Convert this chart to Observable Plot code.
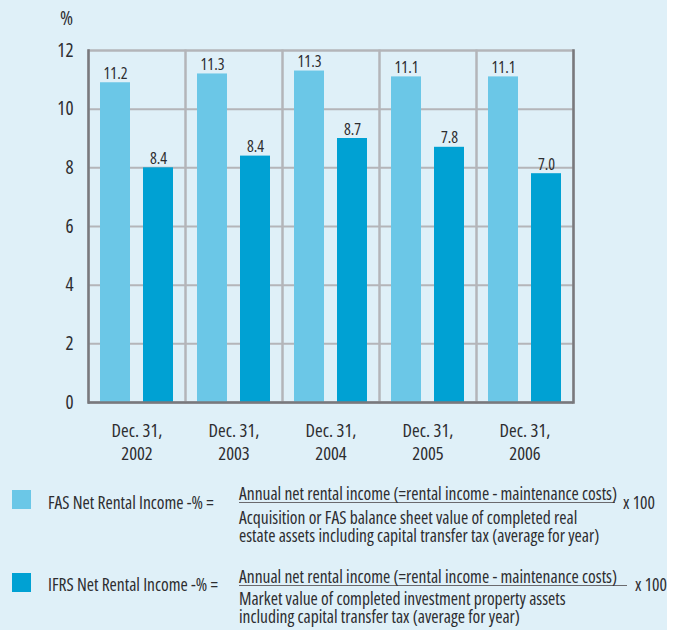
<!DOCTYPE html>
<html>
<head>
<meta charset="utf-8">
<script src="https://cdn.jsdelivr.net/npm/d3@7"></script>
<script src="https://cdn.jsdelivr.net/npm/@observablehq/plot@0.6"></script>
<style>
  html, body { margin: 0; padding: 0; background: #ffffff; }
  #wrap { position: relative; width: 667px; height: 630px; background: #dff0f8;
          font-family: "Open Sans", sans-serif; font-stretch: 75%;
          color: #2d2d30; overflow: hidden; }
  #chart { position: absolute; left: 0; top: 0; }
  #chart svg, #chart svg text { font-stretch: 75%; }
  .sw { position: absolute; width: 19px; height: 19px; }
  .lab { position: absolute; font-size: 17.5px; line-height: 18px; height: 18px; white-space: nowrap; }
  .num { position: absolute; font-size: 17.5px; line-height: 17px; height: 17px; white-space: nowrap; border-bottom: 1.5px solid #6a6a6e; }
  .den { position: absolute; font-size: 17.5px; line-height: 18px; height: 18px; white-space: nowrap; }
</style>
</head>
<body>
<div id="wrap">
  <div id="chart"></div>
  <div id="legend"></div>
</div>
<script>
const years = ["2002", "2003", "2004", "2005", "2006"];
const series = ["FAS", "IFRS"];
const fasValues = [10.9, 11.2, 11.3, 11.1, 11.1];
const ifrsValues = [8.0, 8.4, 9.0, 8.7, 7.8];
const fasLabels = ["11.2", "11.3", "11.3", "11.1", "11.1"];
const ifrsLabels = ["8.4", "8.4", "8.7", "7.8", "7.0"];
const yTicks = [0, 2, 4, 6, 8, 10, 12];
const yUnit = "%";
const dateLabel = "Dec. 31,";
const seriesColors = ["#6bc7e7", "#00a1d3"];

const legendTitles = ["FAS Net Rental Income -% =", "IFRS Net Rental Income -% ="];
const legendNumerators = [
  "Annual net rental income (=rental income - maintenance costs)",
  "Annual net rental income (=rental income - maintenance costs)"
];
const legendDenominators = [
  ["Acquisition or FAS balance sheet value of completed real", "estate assets including capital transfer tax (average for year)"],
  ["Market value of completed investment property assets", "including capital transfer tax (average for year)"]
];
const legendFactor = "x 100";

const data = years.flatMap((yr, i) => [
  {year: yr, series: series[0], value: fasValues[i], label: fasLabels[i]},
  {year: yr, series: series[1], value: ifrsValues[i], label: ifrsLabels[i]}
]);

const FONT = '"Open Sans", sans-serif';
const gridColor = "#b4b5b9";
const axisColor = "#78797d";
const textColor = "#2d2d30";

const chart = Plot.plot({
  width: 667,
  height: 470,
  marginLeft: 88,
  marginRight: 94,
  marginTop: 50,
  marginBottom: 68,
  style: {background: "transparent", fontFamily: FONT, color: textColor},
  fx: {domain: years, paddingInner: 0, paddingOuter: 0, label: null},
  x: {domain: series, paddingInner: 0.3, paddingOuter: 0.26, axis: null},
  y: {domain: [0, 12], label: null},
  color: {domain: series, range: seriesColors},
  marks: [
    Plot.ruleY(yTicks, {stroke: gridColor, strokeWidth: 2}),
    Plot.frame({stroke: gridColor, strokeWidth: 2}),
    Plot.barY(data, {fx: "year", x: "series", y: "value", fill: "series"}),
    Plot.text(data, {fx: "year", x: "series", y: "value", text: "label",
      lineAnchor: "bottom", dy: -4, fontSize: 16, fill: textColor}),
    Plot.frame({anchor: "left", facetAnchor: "left", stroke: axisColor, strokeWidth: 2.5}),
    Plot.frame({anchor: "right", facetAnchor: "right", stroke: axisColor, strokeWidth: 2.5}),
    Plot.ruleY([0], {stroke: axisColor, strokeWidth: 2.5}),
    Plot.axisY({ticks: yTicks, tickSize: 0, tickPadding: 15, fontSize: 19, label: null, fill: textColor}),
    Plot.axisFx({anchor: "bottom", tickSize: 0, tickPadding: 18, fontSize: 18.5, lineHeight: 1.26, label: null, fill: textColor,
      tickFormat: y => `${dateLabel}\n${y}`}),
    Plot.text([yUnit], {frameAnchor: "top-left", facetAnchor: "left", dx: -22, dy: -32,
      textAnchor: "middle", lineAnchor: "middle", fontSize: 20, fill: textColor})
  ]
});
document.getElementById("chart").appendChild(chart);

// Legend (HTML below the SVG)
const legendLayout = [
  {sw: 490, title: 502, num: 485, den: 508, numW: 376, fac: 623},
  {sw: 573, title: 584, num: 568, den: 589, numW: 388, fac: 635}
];
const legend = document.getElementById("legend");
function addDiv(cls, left, top, text) {
  const el = document.createElement("div");
  el.className = cls;
  el.style.left = left + "px";
  el.style.top = top + "px";
  if (text != null) el.textContent = text;
  legend.appendChild(el);
  return el;
}
series.forEach((s, i) => {
  const L = legendLayout[i];
  const sw = addDiv("sw", 12, L.sw);
  sw.style.background = seriesColors[i];
  addDiv("lab", 48, L.title - 9, legendTitles[i]);
  const n = addDiv("num", 239, L.num, legendNumerators[i]);
  n.style.width = L.numW + "px";
  legendDenominators[i].forEach((line, j) => addDiv("den", 239, L.den + j * 18, line));
  addDiv("lab", L.fac, L.title - 9, legendFactor);
});
</script>
</body>
</html>
